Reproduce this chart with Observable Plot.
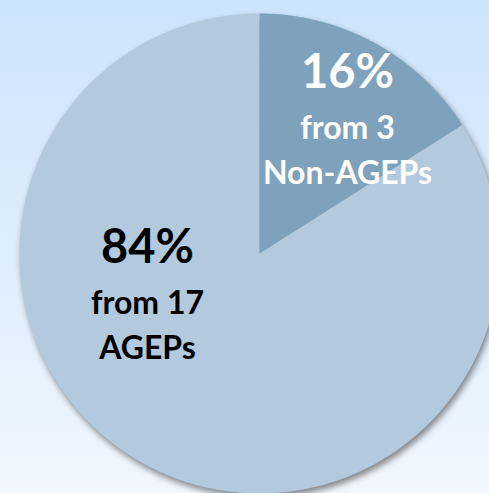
<!DOCTYPE html>
<html>
<head>
<meta charset="utf-8">
<script src="https://cdn.jsdelivr.net/npm/d3@7"></script>
<script src="https://cdn.jsdelivr.net/npm/@observablehq/plot@0.6"></script>
<style>
  html, body { margin: 0; padding: 0; }
  body {
    width: 489px; height: 493px; overflow: hidden;
    background: linear-gradient(to bottom, #cce4fc 0%, #dcecfd 45%, #f0f7fe 100%);
  }
  #chart svg { display: block; background: transparent; }
  #chart svg g.slices { filter: drop-shadow(2px 4px 3px rgba(0,0,0,0.45)); }
</style>
</head>
<body>
<div id="chart"></div>
<script>
// ---- data ----
const categories = ["Non-AGEPs", "AGEPs"];
const shares = [16, 84];              // percent
const counts = [3, 17];
const percentLabels = ["16%", "84%"];
const descLabels = ["from 3\nNon-AGEPs", "from 17\nAGEPs"];

// ---- styles ----
const sliceColors = ["#7fa2bc", "#b3c9dd"];
const textColors = ["#ffffff", "#000000"];

// ---- geometry (data units: radius = 1) ----
const W = 489, H = 493, R = 240, CX = 259, CY = 253;
const toX = px => (px - CX) / R, toY = py => (CY - py) / R;

const arcs = d3.pie().sort(null).value(d => d.share)(
  categories.map((c, i) => ({category: c, share: shares[i], i}))
);

// polygon points for each slice from pie angles (angle 0 = top, clockwise)
const slicePts = arcs.map(a => {
  const pts = [{x: 0, y: 0}];
  const n = Math.max(2, Math.ceil((a.endAngle - a.startAngle) / 0.005));
  for (let k = 0; k <= n; k++) {
    const t = a.startAngle + (a.endAngle - a.startAngle) * k / n;
    pts.push({x: Math.sin(t), y: Math.cos(t)});
  }
  pts.push({x: 0, y: 0});
  return pts;
});

// label anchor positions (pixel layout -> data units)
const labelLayout = [
  {pctX: 347, pctY: 72, descY: 147},
  {pctX: 147, pctY: 247, descY: 322}
];
const labels = categories.map((c, i) => ({
  x: toX(labelLayout[i].pctX),
  yPct: toY(labelLayout[i].pctY),
  yDesc: toY(labelLayout[i].descY),
  pct: percentLabels[i],
  desc: descLabels[i],
  color: textColors[i]
}));

const font = "Lato, 'Open Sans', 'DejaVu Sans', sans-serif";

const plot = Plot.plot({
  width: W, height: H,
  margin: 0,
  x: {domain: [toX(0), toX(W)], axis: null},
  y: {domain: [toY(H), toY(0)], axis: null},
  marks: [
    ...slicePts.map((pts, i) => Plot.line(pts, {
      x: "x", y: "y", fill: sliceColors[i], stroke: "none", curve: "linear-closed"
    })),
    Plot.text(labels, {
      x: "x", y: "yPct", text: "pct", fill: "color",
      fontSize: 47, fontWeight: "bold", fontFamily: font, textAnchor: "middle"
    }),
    Plot.text(labels, {
      x: "x", y: "yDesc", text: "desc", fill: "color",
      fontSize: 32, fontWeight: "bold", fontFamily: font, textAnchor: "middle",
      lineHeight: 45 / 32
    })
  ]
});

// group slices for the shadow
const svg = d3.select(plot);
const lineGroups = svg.selectAll("g[aria-label='line']").nodes();
if (lineGroups.length) {
  const g = svg.insert("g", () => lineGroups[0]).attr("class", "slices").node();
  lineGroups.forEach(n => g.appendChild(n));
}

document.getElementById("chart").appendChild(plot);
</script>
</body>
</html>
